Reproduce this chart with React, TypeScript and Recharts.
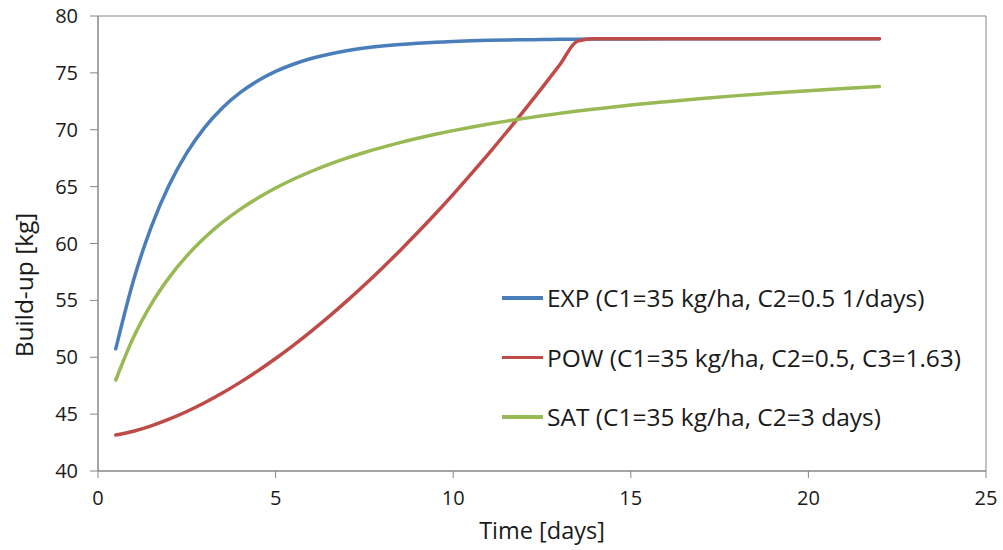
import {LineChart, Line, XAxis, YAxis, Legend, ReferenceArea} from "recharts";

// time [days]
const time = [
    0.5, 1, 1.5, 2, 2.5, 3, 3.5, 4, 4.5, 5, 5.5, 6, 6.5, 7, 7.5, 8, 8.5, 9, 9.5, 10,
    10.5, 11, 11.5, 12, 12.5, 13, 13.5, 14, 15, 16, 17, 18, 19, 20, 21, 22,
];

const expBuildUp = [
    50.74, 56.77, 61.47, 65.12, 67.97, 70.19, 71.92, 73.26, 74.31, 75.13, 75.76, 76.26, 76.64, 76.94, 77.18, 77.36, 77.5, 77.61, 77.7, 77.76,
    77.82, 77.86, 77.89, 77.91, 77.93, 77.95, 77.96, 77.97, 77.98, 77.99, 77.99, 78.0, 78.0, 78.0, 78.0, 78.0,
];

const powBuildUp = [
    43.16, 43.5, 43.97, 44.55, 45.23, 46.0, 46.85, 47.79, 48.8, 49.89, 51.05, 52.28, 53.57, 54.93, 56.35, 57.83, 59.37, 60.96, 62.61, 64.32,
    66.09, 67.91, 69.78, 71.71, 73.68, 75.71, 77.79, 78.0, 78.0, 78.0, 78.0, 78.0, 78.0, 78.0, 78.0, 78.0,
];

const satBuildUp = [
    48.0, 51.75, 54.67, 57.0, 58.91, 60.5, 61.85, 63.0, 64.0, 64.88, 65.65, 66.33, 66.95, 67.5, 68.0, 68.45, 68.87, 69.25, 69.6, 69.92,
    70.22, 70.5, 70.76, 71.0, 71.23, 71.44, 71.64, 71.82, 72.17, 72.47, 72.75, 73.0, 73.23, 73.43, 73.63, 73.8,
];

const xTicks = [0, 5, 10, 15, 20, 25];
const yTicks = [40, 45, 50, 55, 60, 65, 70, 75, 80];

const series = [
    {key: "exp", name: "EXP (C1=35 kg/ha, C2=0.5 1/days)", color: "#4A7EBB"},
    {key: "pow", name: "POW (C1=35 kg/ha, C2=0.5, C3=1.63)", color: "#BE4B48"},
    {key: "sat", name: "SAT (C1=35 kg/ha, C2=3 days)", color: "#98B954"},
];

const data = time.map((t, i) => ({
    t,
    exp: expBuildUp[i],
    pow: powBuildUp[i],
    sat: satBuildUp[i],
}));

const FONT = "'Open Sans', sans-serif";
const TEXT = "#1a1a1a";

const LegendBox = () => (
    <div style={{fontFamily: FONT, fontSize: 24.5, color: TEXT, whiteSpace: "nowrap"}}>
        {series.map(s => (
            <div key={s.key} style={{display: "flex", alignItems: "center", height: 59.5}}>
                <div style={{width: 41, height: 3.5, background: s.color, marginRight: 4}}/>
                <span>{s.name}</span>
            </div>
        ))}
    </div>
);

const YTitle = (props: any) => {
    const {viewBox} = props;
    const x = viewBox.x + 23;
    const y = 285;
    return (
        <text x={x} y={y} transform={`rotate(-90 ${x} ${y})`} textAnchor="middle" dominantBaseline="central"
              fill={TEXT} fontSize={24.5} fontFamily={FONT}>
            Build-up [kg]
        </text>
    );
};

const App = () => {
    return (
        <div style={{position: "absolute", left: 0, top: 0}}>
            <LineChart
                width={1003}
                height={550}
                data={data}
                margin={{top: 16, right: 17, left: 0, bottom: 0}}
                style={{fontFamily: FONT}}
            >
                <XAxis
                    dataKey="t"
                    type="number"
                    domain={[0, 25]}
                    ticks={xTicks}
                    height={79}
                    tickSize={7}
                    tickMargin={13}
                    stroke="#868686"
                    tick={{fill: TEXT, fontSize: 20}}
                    label={{value: "Time [days]", position: "insideBottom", offset: 11, fill: TEXT, fontSize: 23.5}}
                />
                <YAxis
                    type="number"
                    domain={[40, 80]}
                    ticks={yTicks}
                    width={98}
                    tickSize={8}
                    tickMargin={12}
                    stroke="#868686"
                    tick={{fill: TEXT, fontSize: 20}}
                    label={<YTitle/>}
                />
                <ReferenceArea x1={0} x2={25} y1={40} y2={80} fill="none" stroke="#868686" strokeWidth={1}/>
                {series.map(s => (
                    <Line
                        key={s.key}
                        dataKey={s.key}
                        name={s.name}
                        type="monotone"
                        stroke={s.color}
                        strokeWidth={3.5}
                        strokeLinecap="round"
                        dot={false}
                        isAnimationActive={false}
                    />
                ))}
                <Legend
                    layout="vertical"
                    align="center"
                    verticalAlign="middle"
                    content={<LegendBox/>}
                    wrapperStyle={{left: 502, top: 268, width: "auto"}}
                />
            </LineChart>
        </div>
    );
};

export default App;
